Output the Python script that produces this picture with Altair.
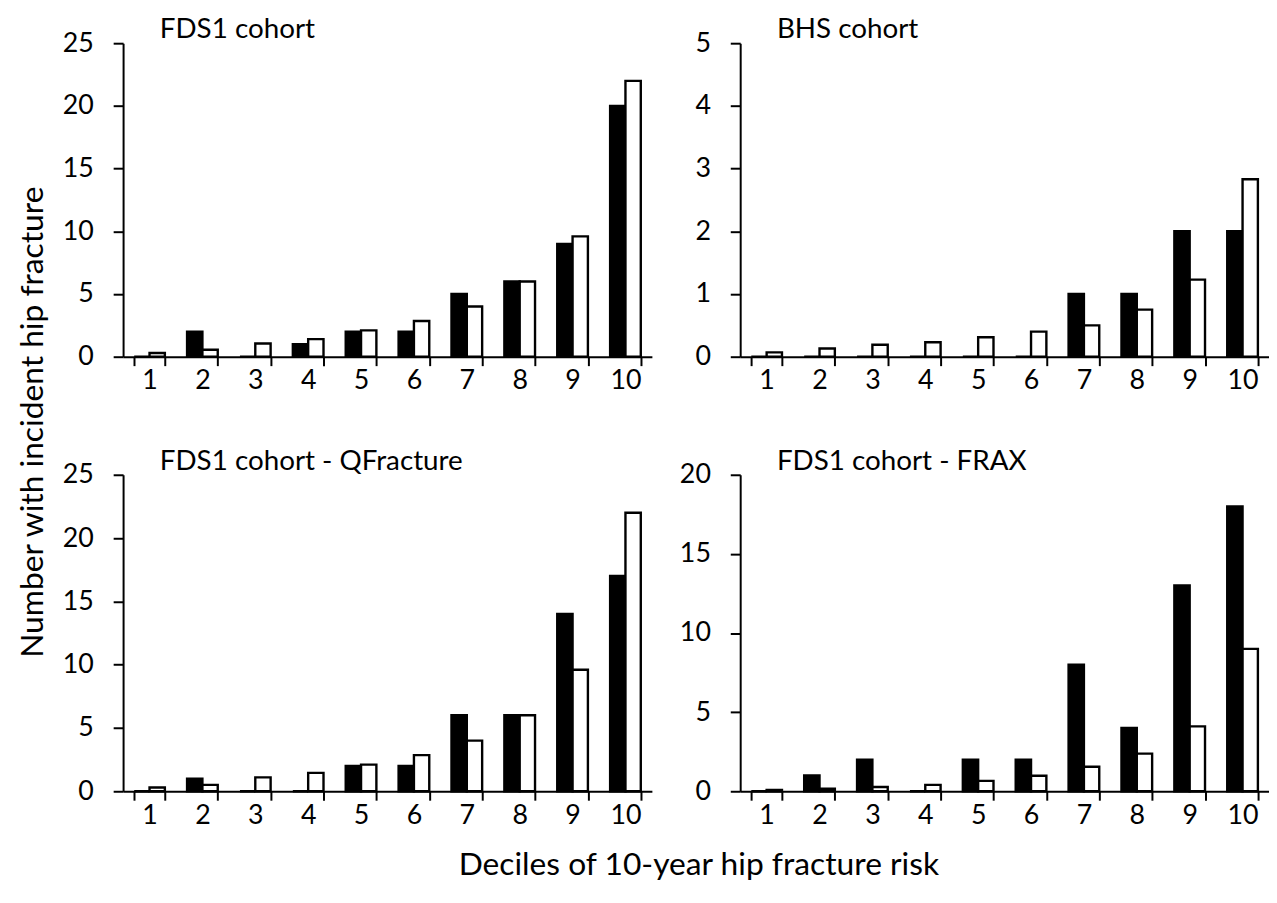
import altair as alt
import pandas as pd

FONT = "Lato"

deciles = [1, 2, 3, 4, 5, 6, 7, 8, 9, 10]
series_names = ["Observed", "Predicted"]
panel_titles = ["FDS1 cohort", "BHS cohort", "FDS1 cohort - QFracture", "FDS1 cohort - FRAX"]

fds1_black = [0, 2, 0, 1, 2, 2, 5, 6, 9, 20]
fds1_white = [0.3, 0.55, 1.05, 1.4, 2.1, 2.85, 4.0, 6.0, 9.6, 22.0]
bhs_black = [0, 0, 0, 0, 0, 0, 1, 1, 2, 2]
bhs_white = [0.07, 0.13, 0.19, 0.23, 0.31, 0.4, 0.5, 0.75, 1.23, 2.83]
qf_black = [0, 1, 0, 0, 2, 2, 6, 6, 14, 17]
qf_white = [0.3, 0.5, 1.1, 1.45, 2.1, 2.85, 4.0, 6.0, 9.6, 22.0]
frax_black = [0, 1, 2, 0, 2, 2, 8, 4, 13, 18]
frax_white = [0.08, 0.16, 0.27, 0.4, 0.66, 0.98, 1.55, 2.38, 4.1, 9.0]

y_max = [25, 5, 25, 20]
y_step = [5, 1, 5, 5]

y_title = "Number with incident hip fracture"
x_title = "Deciles of 10-year hip fracture risk"


def panel(i, black, white, height):
    df = pd.DataFrame({
        "decile": deciles * 2,
        "series": [series_names[0]] * len(deciles) + [series_names[1]] * len(deciles),
        "value": black + white,
    })
    return alt.Chart(
        df,
        title=alt.TitleParams(
            panel_titles[i], anchor="start", frame="group", dx=37, offset=-15,
            fontSize=28, font=FONT, fontWeight="normal", color="black",
        ),
    ).mark_bar(stroke="black", strokeWidth=2.4).encode(
        x=alt.X(
            "decile:O",
            scale=alt.Scale(paddingInner=0.42, paddingOuter=0.21),
            axis=alt.Axis(
                title=None, labelAngle=0, tickBand="extent", tickSize=9,
                labelPadding=2, labelFontSize=27,
            ),
        ),
        xOffset=alt.XOffset("series:N", sort=series_names),
        y=alt.Y(
            "value:Q",
            scale=alt.Scale(domain=[0, y_max[i]], nice=False, zero=True),
            axis=alt.Axis(
                title=None, values=list(range(0, y_max[i] + 1, y_step[i])),
                tickSize=10, labelPadding=20, labelFontSize=27,
            ),
        ),
        fill=alt.Fill(
            "series:N",
            scale=alt.Scale(domain=series_names, range=["black", "white"]),
            legend=None,
        ),
    ).properties(width=533, height=height)


p1 = panel(0, fds1_black, fds1_white, 316)
p2 = panel(1, bhs_black, bhs_white, 316)
p3 = panel(2, qf_black, qf_white, 319)
p4 = panel(3, frax_black, frax_white, 319)

grid = alt.concat(
    p1, p2, p3, p4, columns=2, bounds="flush",
    spacing=alt.RowColnumber(row=119, column=89),
    title=alt.TitleParams(
        y_title, orient="left", anchor="middle", offset=12,
        fontSize=32, font=FONT, fontWeight="normal", color="black",
    ),
)
chart = alt.vconcat(
    grid,
    title=alt.TitleParams(
        x_title, orient="bottom", anchor="middle", offset=22, dx=56,
        fontSize=32, font=FONT, fontWeight="normal", color="black",
    ),
).properties(
    padding={"left": 9, "top": 5, "right": 0, "bottom": 0},
).configure_view(
    stroke=None,
).configure_axis(
    domainColor="black", domainWidth=2, tickColor="black", tickWidth=2,
    labelColor="black", labelFont=FONT, grid=False,
)

chart.save("out.html", embed_options={"renderer": "svg", "actions": False})
